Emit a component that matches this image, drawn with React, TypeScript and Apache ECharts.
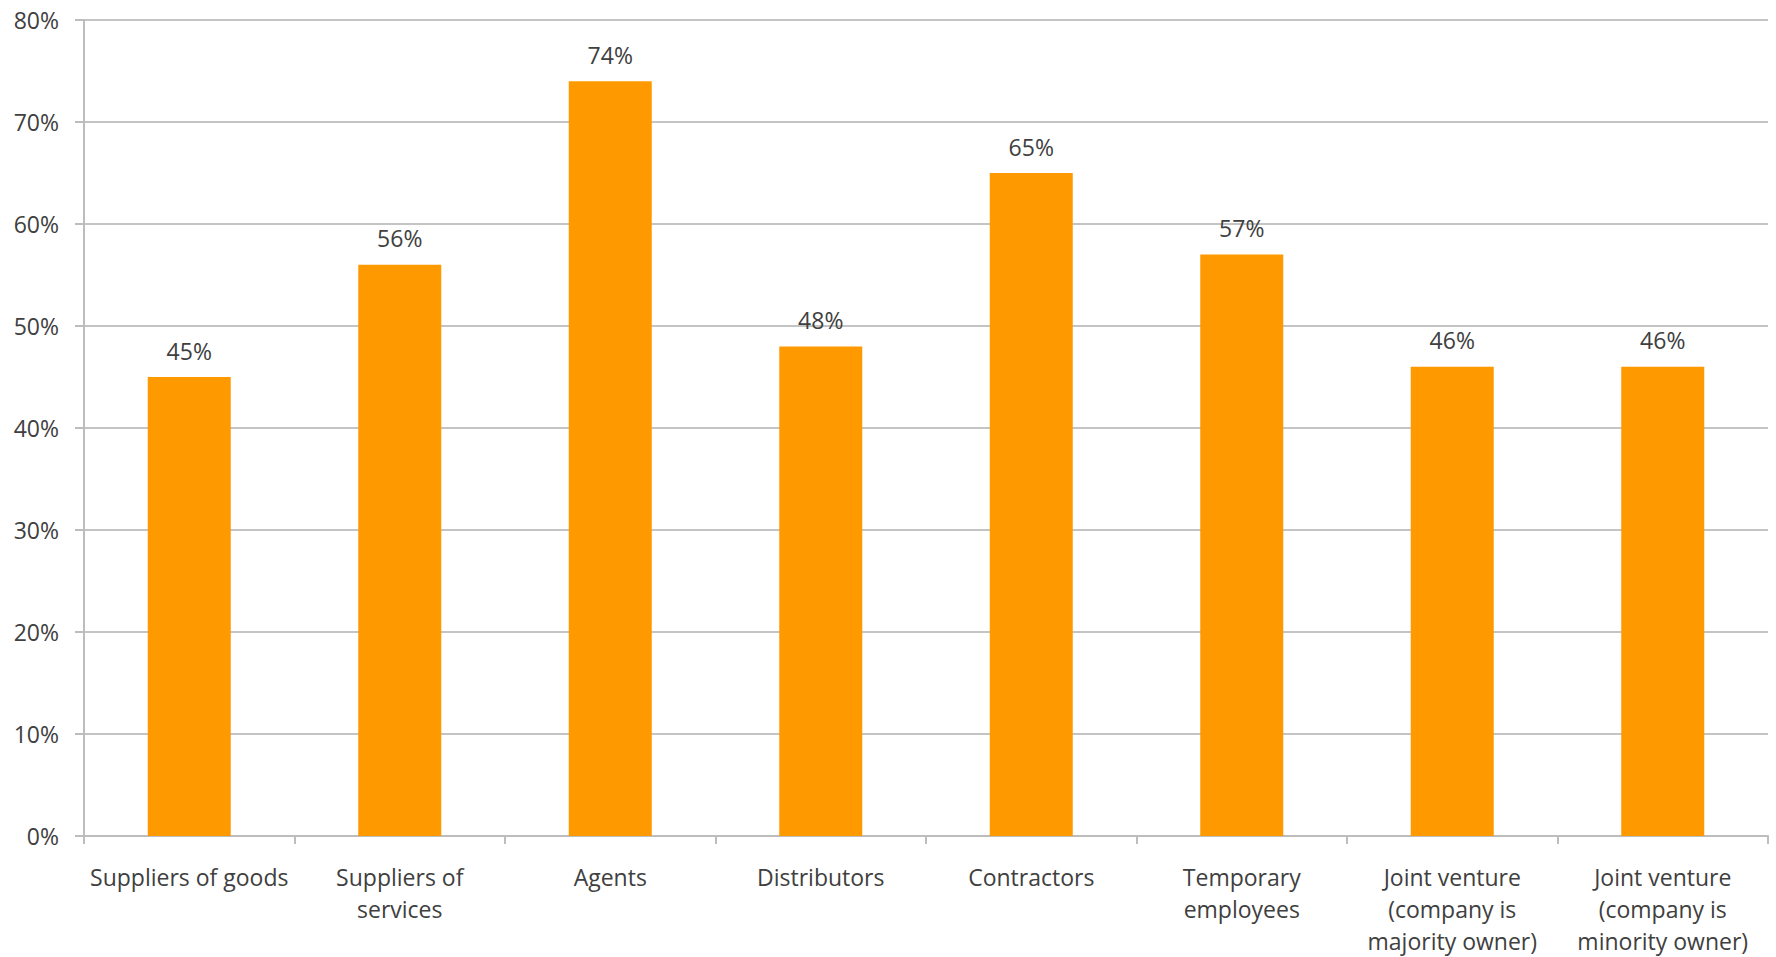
import React, { useEffect, useRef } from "react";
import * as echarts from "echarts";

const categories = [
  "Suppliers of goods",
  "Suppliers of\nservices",
  "Agents",
  "Distributors",
  "Contractors",
  "Temporary\nemployees",
  "Joint venture\n(company is\nmajority owner)",
  "Joint venture\n(company is\nminority owner)",
];
const values = [45, 56, 74, 48, 65, 57, 46, 46];
const yTicks = { min: 0, max: 80, interval: 10 };

const FONT = "'Open Sans', Lato, sans-serif";

export default function App() {
  const ref = useRef<HTMLDivElement>(null);
  useEffect(() => {
    if (!ref.current) return;
    const chart = echarts.init(ref.current, null, { renderer: "svg" });
    chart.setOption({
      animation: false,
      backgroundColor: "#ffffff",
      grid: { left: 84, right: 8, top: 20, bottom: 120, containLabel: false },
      xAxis: {
        type: "category",
        data: categories,
        axisLine: { lineStyle: { color: "#bdbdbd", width: 2 } },
        axisTick: { show: true, length: 8, alignWithLabel: false, lineStyle: { color: "#bdbdbd", width: 2 } },
        axisLabel: {
          color: "#404040",
          fontSize: 23,
          fontFamily: FONT,
          lineHeight: 32,
          margin: 25,
          interval: 0,
          align: "center",
        },
      },
      yAxis: {
        type: "value",
        min: yTicks.min,
        max: yTicks.max,
        interval: yTicks.interval,
        axisLine: { show: true, lineStyle: { color: "#bdbdbd", width: 2 } },
        axisTick: { show: true, length: 9, lineStyle: { color: "#bdbdbd", width: 2 } },
        splitLine: { lineStyle: { color: "#c4c4c4", width: 2 } },
        axisLabel: {
          color: "#404040",
          fontSize: 23,
          fontFamily: FONT,
          margin: 25,
          formatter: (v: number) => v + "%",
        },
      },
      series: [
        {
          type: "bar",
          data: values,
          barWidth: 83,
          itemStyle: { color: "#FF9900" },
          label: {
            show: true,
            position: "top",
            distance: 15,
            color: "#404040",
            fontSize: 23,
            fontFamily: FONT,
            formatter: (p: any) => p.value + "%",
          },
        },
      ],
    });
    return () => chart.dispose();
  }, []);
  return (
    <div
      ref={ref}
      style={{ position: "absolute", left: 0, top: 0, width: 1776, height: 957 }}
    />
  );
}
